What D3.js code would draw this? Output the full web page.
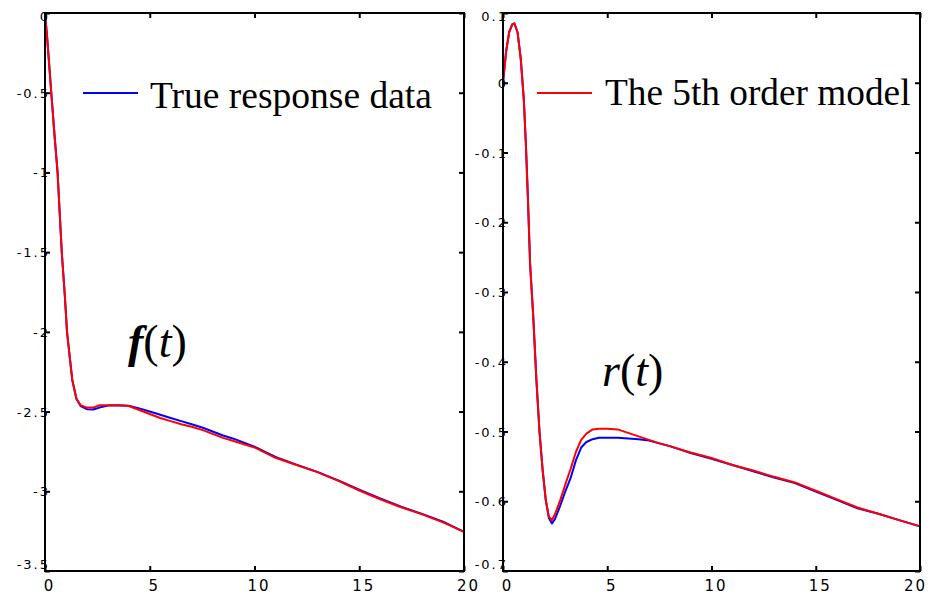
<!DOCTYPE html>
<html><head><meta charset="utf-8">
<script src="https://cdn.jsdelivr.net/npm/d3@7"></script>
<style>body{margin:0;background:#fff}</style>
</head><body>
<svg id="c" width="930" height="594"></svg>
<script>
// ---- data ----
const tF = [0,0.1,0.3,0.45,0.6,0.8,0.95,1.05,1.15,1.3,1.5,1.7,2.0,2.3,2.6,3.0,3.5,4.0,4.5,5,5.5,6,6.5,7,7.5,8,8.5,9,9.5,10,11,12,13,14,15,16,17,18,19,20];
const fTrue  = [0,-0.15,-0.5,-0.76,-1.0,-1.5,-1.78,-2.0,-2.12,-2.3,-2.42,-2.465,-2.485,-2.487,-2.475,-2.462,-2.46,-2.463,-2.48,-2.5,-2.52,-2.54,-2.56,-2.58,-2.6,-2.625,-2.65,-2.67,-2.695,-2.72,-2.785,-2.833,-2.878,-2.932,-2.99,-3.045,-3.097,-3.142,-3.19,-3.255];
const fModel = [0,-0.15,-0.5,-0.76,-1.0,-1.5,-1.78,-2.0,-2.12,-2.3,-2.42,-2.46,-2.475,-2.475,-2.46,-2.46,-2.46,-2.465,-2.49,-2.515,-2.54,-2.56,-2.58,-2.595,-2.615,-2.64,-2.665,-2.685,-2.705,-2.725,-2.79,-2.835,-2.88,-2.935,-2.995,-3.05,-3.1,-3.145,-3.195,-3.255];

const tR = [0,0.15,0.3,0.45,0.55,0.7,0.85,1.0,1.1,1.2,1.3,1.45,1.6,1.75,1.9,2.05,2.2,2.35,2.5,2.75,3.0,3.25,3.5,3.75,4.0,4.3,4.6,5.0,5.5,6.0,6.5,7.0,7.5,8,9,10,11,12,13,14,15,16,17,18,19,20];
const rTrue  = [0,0.045,0.073,0.084,0.085,0.072,0.035,-0.025,-0.09,-0.17,-0.26,-0.335,-0.425,-0.5,-0.555,-0.598,-0.624,-0.632,-0.625,-0.606,-0.585,-0.566,-0.541,-0.523,-0.515,-0.511,-0.509,-0.509,-0.509,-0.51,-0.511,-0.513,-0.517,-0.521,-0.531,-0.539,-0.548,-0.557,-0.566,-0.574,-0.586,-0.598,-0.61,-0.618,-0.627,-0.636];
const rModel = [0,0.045,0.073,0.084,0.085,0.072,0.035,-0.025,-0.09,-0.17,-0.26,-0.335,-0.425,-0.5,-0.555,-0.598,-0.622,-0.627,-0.618,-0.598,-0.575,-0.553,-0.529,-0.512,-0.503,-0.497,-0.496,-0.496,-0.497,-0.502,-0.507,-0.512,-0.517,-0.521,-0.53,-0.538,-0.548,-0.556,-0.565,-0.573,-0.585,-0.597,-0.609,-0.618,-0.627,-0.636];

const xTicks = [0,5,10,15,20];
const yTicksF = [0,-0.5,-1,-1.5,-2,-2.5,-3,-3.5];
const yTicksR = [0.1,0,-0.1,-0.2,-0.3,-0.4,-0.5,-0.6,-0.7];
const legendF = "True response data";
const legendR = "The 5th order model";

// ---- drawing ----
const svg = d3.select("#c");
svg.append("rect").attr("width",930).attr("height",594).attr("fill","#fff");

function panel(opt){
  const x = d3.scaleLinear().domain([0,20]).range([opt.x0,opt.x1]);
  const y = d3.scaleLinear().domain(opt.yDom).range([opt.y1,opt.y0]);
  const g = svg.append("g");
  const line = d3.line().x(d=>x(d[0])).y(d=>y(d[1]));
  const blue = opt.t.map((t,i)=>[t,opt.trueV[i]]);
  const red = opt.t.map((t,i)=>[t,opt.modelV[i]]);
  g.append("path").datum(blue).attr("d",line).attr("fill","none").attr("stroke","#0000ff").attr("stroke-width",2).attr("stroke-linejoin","round");
  g.append("path").datum(red).attr("d",line).attr("fill","none").attr("stroke","#ff0000").attr("stroke-width",2).attr("stroke-linejoin","round");

  // axes (inward ticks)
  const la = g.append("g").attr("transform",`translate(${opt.x0},0)`)
    .call(d3.axisLeft(y).tickValues(opt.yTicks).tickSize(-5).tickFormat(d=>String(d)));
  const ra = g.append("g").attr("transform",`translate(${opt.x1},0)`)
    .call(d3.axisRight(y).tickValues(opt.yTicks).tickSize(-5).tickFormat(""));
  const ta = g.append("g").attr("transform",`translate(0,${opt.y0})`)
    .call(d3.axisTop(x).tickValues(xTicks).tickSize(-5).tickFormat(""));
  const ba = g.append("g").attr("transform",`translate(0,${opt.y1})`)
    .call(d3.axisBottom(x).tickValues(xTicks).tickSize(-5).tickFormat(d=>String(d)));
  [la,ra,ta,ba].forEach(a=>{a.select(".domain").remove(); a.selectAll(".tick line").attr("stroke","#000").attr("stroke-width",2);});
  la.selectAll(".tick text").attr("x",5).attr("dy","0.35em")
    .attr("font-family","DejaVu Sans").attr("font-size",13).attr("letter-spacing",2).attr("fill","#000")
    .attr("text-anchor","end");
  const n = opt.yTicks.length;
  la.selectAll(".tick").each(function(d,i){
    const tt = d3.select(this).select("text");
    if(i===0) tt.attr("y", opt.y0 + 3 - y(d));
    if(i===n-1) tt.attr("y", opt.y1 - 7 - y(d));
  });
  ba.selectAll(".tick text").attr("y",9).attr("dy","0.71em").attr("x",4)
    .attr("font-family","DejaVu Sans").attr("font-size",15).attr("letter-spacing",2).attr("fill","#000");
  if(opt.clampLast){
    ba.selectAll(".tick").filter(d=>d===20).select("text").attr("x",-5);
  }
  g.append("rect").attr("x",opt.x0).attr("y",opt.y0).attr("width",opt.x1-opt.x0).attr("height",opt.y1-opt.y0)
    .attr("fill","none").attr("stroke","#000").attr("stroke-width",2);
  return {x,y,g};
}

const P1 = panel({x0:45,x1:464,y0:13,y1:571,yDom:[-3.5,0],yTicks:yTicksF,t:tF,trueV:fTrue,modelV:fModel});
const P2 = panel({x0:503,x1:920,y0:13,y1:571,yDom:[-0.7,0.1],yTicks:yTicksR,t:tR,trueV:rTrue,modelV:rModel,clampLast:true});

// legends
svg.append("line").attr("x1",83).attr("x2",138).attr("y1",93).attr("y2",93).attr("stroke","#0000ff").attr("stroke-width",2);
svg.append("text").attr("x",150).attr("y",108).attr("font-family","Liberation Serif, Times New Roman, serif").attr("font-size",37.5).text(legendF);
svg.append("line").attr("x1",537).attr("x2",592).attr("y1",93).attr("y2",93).attr("stroke","#ff0000").attr("stroke-width",2);
svg.append("text").attr("x",605).attr("y",105).attr("font-family","Liberation Serif, Times New Roman, serif").attr("font-size",37.3).text(legendR);

// math labels
const m1 = svg.append("text").attr("x",128).attr("y",357).attr("font-family","Liberation Serif, Times New Roman, serif").attr("font-size",46);
m1.append("tspan").attr("font-weight","bold").attr("font-style","italic").text("f");
m1.append("tspan").text("(");
m1.append("tspan").attr("font-style","italic").text("t");
m1.append("tspan").text(")");
const m2 = svg.append("text").attr("x",602).attr("y",386).attr("font-family","Liberation Serif, Times New Roman, serif").attr("font-size",46);
m2.append("tspan").attr("font-style","italic").text("r");
m2.append("tspan").text("(");
m2.append("tspan").attr("font-style","italic").text("t");
m2.append("tspan").text(")");
</script>
</body></html>
